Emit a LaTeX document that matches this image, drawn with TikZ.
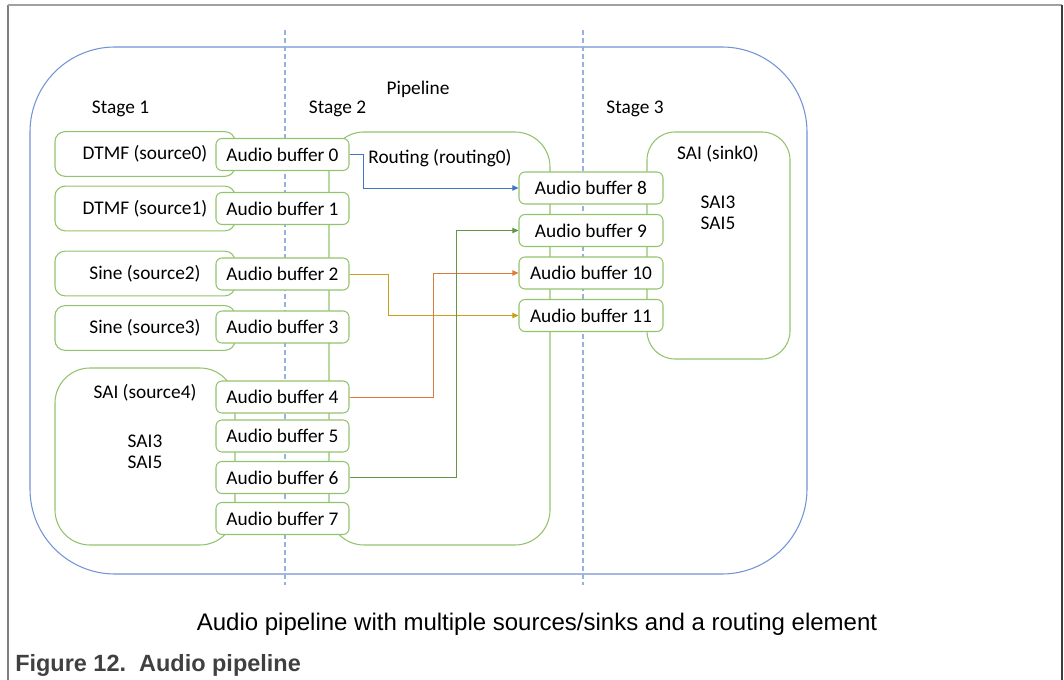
\documentclass[tikz,border=0pt]{standalone}
\usepackage{fontspec}
\setmainfont{Carlito}
\newfontfamily\arialfont{Liberation Sans}
\usetikzlibrary{arrows.meta}
\definecolor{grn}{RGB}{146,196,110}
\definecolor{pipeblue}{RGB}{114,148,212}
\definecolor{dashblue}{RGB}{150,178,222}
\definecolor{arrblue}{RGB}{68,114,196}
\definecolor{arrgold}{RGB}{204,160,20}
\definecolor{arrorange}{RGB}{222,122,62}
\definecolor{arrgreen}{RGB}{96,150,70}
\definecolor{capgray}{RGB}{64,64,64}
\begin{document}
\begin{tikzpicture}[x=0.75pt,y=-0.75pt,
  txt/.style={font=\fontsize{14.5}{17}\selectfont, inner sep=0pt},
  bigbox/.style={draw=grn, line width=0.8pt, fill=white, inner sep=0pt},
  srcbox/.style={bigbox, rounded corners=7.5pt, minimum width=135pt, minimum height=33.5pt, font=\fontsize{14.5}{17}\selectfont},
  bufbox/.style={draw=grn, line width=0.8pt, fill=white, rounded corners=4.5pt, minimum height=24pt, inner sep=0pt, font=\fontsize{14.5}{17}\selectfont},
  bufL/.style={bufbox, minimum width=99.75pt},
  bufR/.style={bufbox, minimum width=108pt},
  stagesep/.style={draw=dashblue, line width=0.8pt, dash pattern=on 3.5pt off 2.5pt},
  arr/.style={line width=0.65pt, -{Triangle[length=4.5pt,width=4pt]}}
]
\useasboundingbox (0,0) rectangle (1064,680);
% frame
\draw[line width=0.9pt, color={rgb,255:red,128;green,128;blue,128}] (8,680) -- (8,5);
\draw[line width=0.9pt, color={rgb,255:red,160;green,160;blue,160}] (8,5) -- (1062,5);
\draw[line width=1pt, color={rgb,255:red,60;green,60;blue,60}] (1062,5) -- (1062,680);

% pipeline outer box
\node[draw=pipeblue, line width=0.8pt, rounded corners=63.75pt, minimum width=582.75pt, minimum height=395.25pt, inner sep=0pt] (pipe) at (418.5,310.5) {};

% stage separators
\coordinate (s1t) at (285,30); \coordinate (s1b) at (285,585);
\coordinate (s2t) at (583,30); \coordinate (s2b) at (583,585);
\draw[stagesep] (s1t) -- (s1b);
\draw[stagesep] (s2t) -- (s2b);

% labels
\node[txt] (plabel) at (418,89) {Pipeline};
\node[txt] (st1) at (120.5,109) {Stage 1};
\node[txt] (st2) at (337.5,109) {Stage 2};
\node[txt] (st3) at (635,109) {Stage 3};

% routing box
\node[bigbox, rounded corners=26.25pt, minimum width=165.75pt, minimum height=309.75pt] (routing) at (439.5,338.5) {};
\node[txt] (routinglbl) at (440,158) {Routing (routing0)};

% sink box
\node[bigbox, rounded corners=21pt, minimum width=107.25pt, minimum height=170.25pt] (sink) at (718.5,245.5) {};
\node[txt] (sinklbl) at (718,154) {SAI (sink0)};
\node[txt, align=left] (sinksai) at (718,213) {SAI3\\[-1.2pt]SAI5};

% sources
\node[srcbox] (src0) at (145,154) {DTMF (source0)};
\node[srcbox] (src1) at (145,208.5) {DTMF (source1)};
\node[srcbox] (src2) at (145,273.5) {Sine (source2)};
\node[srcbox] (src3) at (145,328) {Sine (source3)};
\node[bigbox, rounded corners=26.25pt, minimum width=135pt, minimum height=132.75pt] (src4) at (145,456.5) {};
\node[txt] (src4lbl) at (145,393) {SAI (source4)};
\node[txt, align=left] (src4sai) at (145,452) {SAI3\\[-1.2pt]SAI5};

% buffers stage 1/2
\node[bufL] (b0) at (282.5,154.5) {Audio buffer 0};
\node[bufL] (b1) at (282.5,208.5) {Audio buffer 1};
\node[bufL] (b2) at (282.5,274) {Audio buffer 2};
\node[bufL] (b3) at (282.5,327) {Audio buffer 3};
\node[bufL] (b4) at (282.5,397) {Audio buffer 4};
\node[bufL] (b5) at (282.5,436) {Audio buffer 5};
\node[bufL] (b6) at (282.5,477.5) {Audio buffer 6};
\node[bufL] (b7) at (282.5,518.5) {Audio buffer 7};

% buffers stage 3
\node[bufR] (b8) at (591,188) {Audio buffer 8};
\node[bufR] (b9) at (591,230.5) {Audio buffer 9};
\node[bufR] (b10) at (591,273) {Audio buffer 10};
\node[bufR] (b11) at (591,315.5) {Audio buffer 11};

% connectors
\draw[arr, arrblue] (b0.east) -- ++(14,0) |- (b8.west);
\draw[arr, arrgold] (b2.east) -- ++(39,0) |- (b11.west);
\draw[arr, arrorange] (b4.east) -- ++(84,0) |- (b10.west);
\draw[arr, arrgreen] (b6.east) -- ++(107,0) |- (b9.west);

% captions
\node[font=\arialfont\fontsize{18}{21}\selectfont, inner sep=0pt] (cap) at (537,624) {Audio pipeline with multiple sources/sinks and a routing element};
\node[font=\arialfont\bfseries\fontsize{17.6}{21}\selectfont, text=capgray, inner sep=0pt, anchor=base west] (fig) at (15,671) {Figure 12.\ \ Audio pipeline};
\end{tikzpicture}
\end{document}
